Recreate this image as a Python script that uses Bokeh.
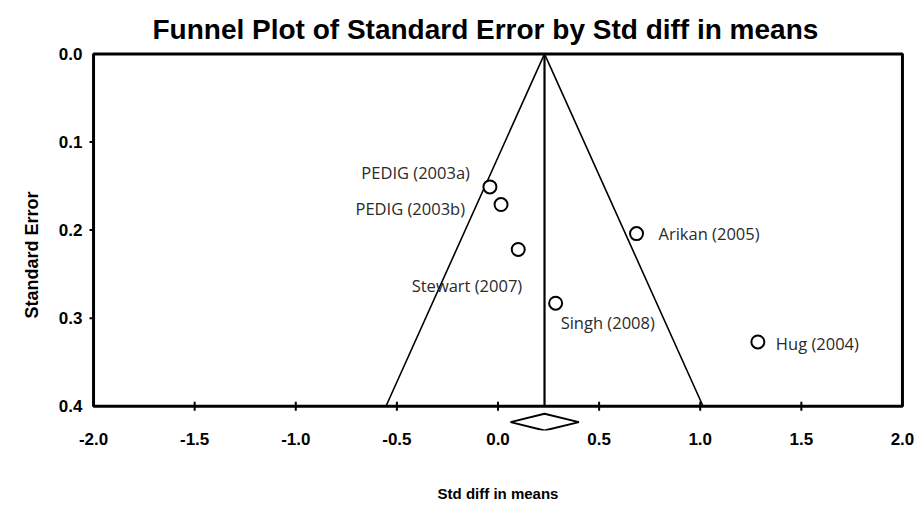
from bokeh.plotting import figure
from bokeh.models import Range1d, FixedTicker, BoxAnnotation, ColumnDataSource, Title
from bokeh.core.properties import value
from bokeh.embed import file_html
from bokeh.resources import INLINE

# ---- data ----
studies = ["PEDIG (2003a)", "PEDIG (2003b)", "Stewart (2007)", "Arikan (2005)", "Singh (2008)", "Hug (2004)"]
std_diff = [-0.04, 0.015, 0.10, 0.685, 0.285, 1.285]
std_err = [0.151, 0.171, 0.222, 0.204, 0.283, 0.327]
pooled_est = 0.23
pooled_ci_low = 0.062
pooled_ci_high = 0.40
z_crit = 1.96
se_max = 0.4
x_ticks = [-2.0, -1.5, -1.0, -0.5, 0.0, 0.5, 1.0, 1.5, 2.0]
y_ticks = [0.0, 0.1, 0.2, 0.3, 0.4]

# ---- style / layout ----
label_align = ["right", "right", "right", "left", "left", "left"]
label_dx = [-20, -36, 4, 22, 5, 18]
label_dy = [-14, 4, 36, 0, 19, 2]
diamond_y = 0.418
diamond_half_h = 0.0095
tick_half = 0.005
ytick_len = 0.03
BOLD = "Liberation Sans"

p = figure(width=916, height=506, output_backend="svg", toolbar_location=None,
           x_range=Range1d(-2.02, 2.02), y_range=Range1d(0.4275, -0.005),
           min_border_left=89, min_border_right=10, min_border_top=49, min_border_bottom=76)
p.outline_line_color = None
p.xgrid.visible = False
p.ygrid.visible = False
p.background_fill_color = "white"
p.border_fill_color = "white"

p.title.text = "Funnel Plot of Standard Error by Std diff in means"
p.title.align = "left"
p.title.offset = 63
p.title.text_font = "Liberation Sans"
p.title.text_font_size = "28px"
p.title.text_font_style = "bold"
p.title.text_color = "black"

# frame box
p.add_layout(BoxAnnotation(left=x_ticks[0], right=x_ticks[-1], top=y_ticks[0], bottom=se_max,
                           fill_alpha=0, line_color="black", line_alpha=1.0, line_width=3, level="overlay"))

# x ticks on frame bottom
p.segment(x0=x_ticks[1:-1], x1=x_ticks[1:-1], y0=[se_max - tick_half] * 7, y1=[se_max + tick_half] * 7,
          line_color="black", line_width=2)
# y ticks left of frame
p.segment(x0=[x_ticks[0] - ytick_len] * 3, x1=[x_ticks[0]] * 3, y0=y_ticks[1:4], y1=y_ticks[1:4],
          line_color="black", line_width=2)

# funnel
p.line([pooled_est - z_crit * se_max, pooled_est, pooled_est + z_crit * se_max], [se_max, 0, se_max],
       line_color="black", line_width=1.6)
p.line([pooled_est, pooled_est], [0, se_max], line_color="black", line_width=2.2)

# diamond
p.patch([pooled_ci_low, pooled_est, pooled_ci_high, pooled_est],
        [diamond_y, diamond_y - diamond_half_h, diamond_y, diamond_y + diamond_half_h],
        fill_color="white", line_color="black", line_width=2)

src = ColumnDataSource(dict(x=std_diff, y=std_err, name=studies, align=label_align, dx=label_dx, dy=label_dy))
p.scatter("x", "y", source=src, size=13, fill_color="white", line_color="black", line_width=2)
p.text("x", "y", text="name", source=src, text_align="align", text_baseline=value("middle"),
       x_offset="dx", y_offset="dy", text_font=value("Open Sans"), text_font_size=value("16.5px"),
       text_color="#2a2a2a")

# axes
p.xaxis.ticker = FixedTicker(ticks=x_ticks)
p.yaxis.ticker = FixedTicker(ticks=y_ticks)
for ax in (p.xaxis[0], p.yaxis[0]):
    ax.axis_line_color = None
    ax.major_tick_line_color = None
    ax.minor_tick_line_color = None
    ax.major_label_text_font = BOLD
    ax.major_label_text_font_style = "bold"
    ax.major_label_text_font_size = "17px"
    ax.major_label_text_color = "black"
    ax.axis_label_text_font = BOLD
    ax.axis_label_text_font_style = "bold"
    ax.axis_label_text_color = "black"
p.xaxis.axis_label_text_font_size = "15px"
p.xaxis.major_label_standoff = -4
p.yaxis.major_label_standoff = 1
p.xaxis.axis_label = "Std diff in means"
p.xaxis.axis_label_standoff = 37
p.xaxis.major_label_overrides = {t: f"{t:.1f}" for t in x_ticks}
p.yaxis.major_label_overrides = {t: f"{t:.1f}" for t in y_ticks}

p.add_layout(Title(text="Standard Error", align="left", offset=112, standoff=27,
                   text_font=BOLD, text_font_style="bold", text_font_size="18px",
                   text_color="black"), "left")

open("out.html", "w").write(file_html(p, INLINE))
